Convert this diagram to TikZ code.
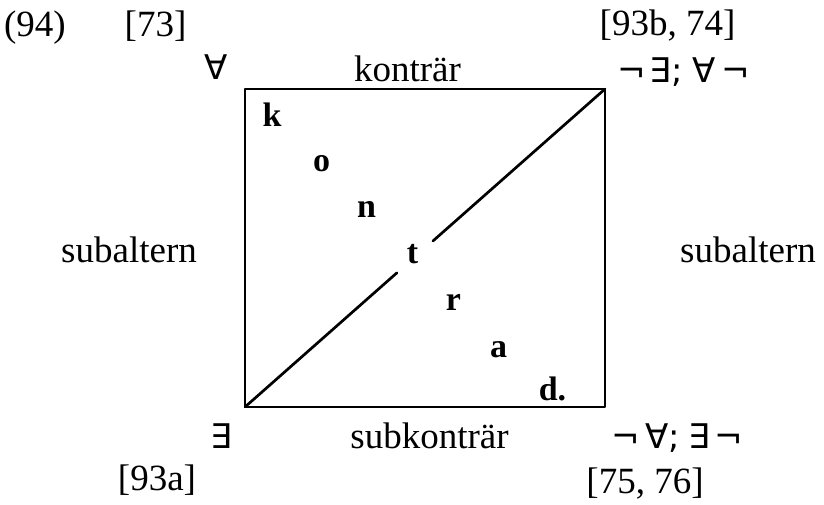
\documentclass[tikz,border=0pt]{standalone}
\usepackage{fontspec}
\setmainfont{Liberation Serif}
\newfontfamily\symfont{DejaVu Sans}
\usetikzlibrary{calc}
\tikzset{
  lbl/.style={font=\fontsize{37}{42}\selectfont, inner sep=0pt, anchor=base},
  sym/.style={font=\symfont\fontsize{34}{40}\selectfont, inner sep=0pt, anchor=base},
  diag/.style={font=\fontsize{34}{40}\selectfont\bfseries, inner sep=0pt, anchor=base},
  edge/.style={line width=2.7pt, line cap=round, line join=round}
}
\begin{document}
\begin{tikzpicture}[x=1pt,y=-1pt]
\useasboundingbox (0,0) rectangle (824,505);
% corners
\coordinate (tl) at (245,89);
\coordinate (tr) at (605,89);
\coordinate (br) at (605,407);
\coordinate (bl) at (245,407);
% square
\draw[edge] (tl) -- (tr) -- (br) -- (bl) -- cycle;
% diagonal with a gap at t
\coordinate (ga) at ($(bl)!0.422!(tr)$);
\coordinate (gb) at ($(bl)!0.522!(tr)$);
\draw[edge] (bl) -- (ga);
\draw[edge] (gb) -- (tr);
% top labels
\node[lbl] (ex) at (35,37) {(94)};
\node[lbl] (r73) at (155.5,37) {[73]};
\node[lbl] (r93b) at (667.5,36) {[93b, 74]};
\node[sym] (all) at (216,80) {∀};
\node[lbl] (kontr) at (407.5,82) {konträr};
\node[sym] (negex) at (683.5,83) {¬\hspace{4pt}∃;\hspace{10pt}∀\hspace{5pt}¬};
% sides
\node[lbl] (subl) at (129,262) {subaltern};
\node[lbl] (subr) at (748,262) {subaltern};
% bottom labels
\node[sym] (ex2) at (221,448) {∃};
\node[lbl] (subk) at (429.5,448) {subkonträr};
\node[sym] (negall) at (677.5,448) {¬\hspace{5pt}∀;\hspace{8pt}∃\hspace{5pt}¬};
\node[lbl] (r93a) at (157,490) {[93a]};
\node[lbl] (r75) at (645,493) {[75, 76]};
% diagonal letters
\node[diag] (dk) at (272,127) {k};
\node[diag] (do) at (321.5,172) {o};
\node[diag] (dn) at (366.5,218) {n};
\node[diag] (dt) at (412.5,263) {t};
\node[diag] (dr) at (453.5,310) {r};
\node[diag] (da) at (498.5,357) {a};
\node[diag] (dd) at (552.5,400) {d.};
\end{tikzpicture}
\end{document}
